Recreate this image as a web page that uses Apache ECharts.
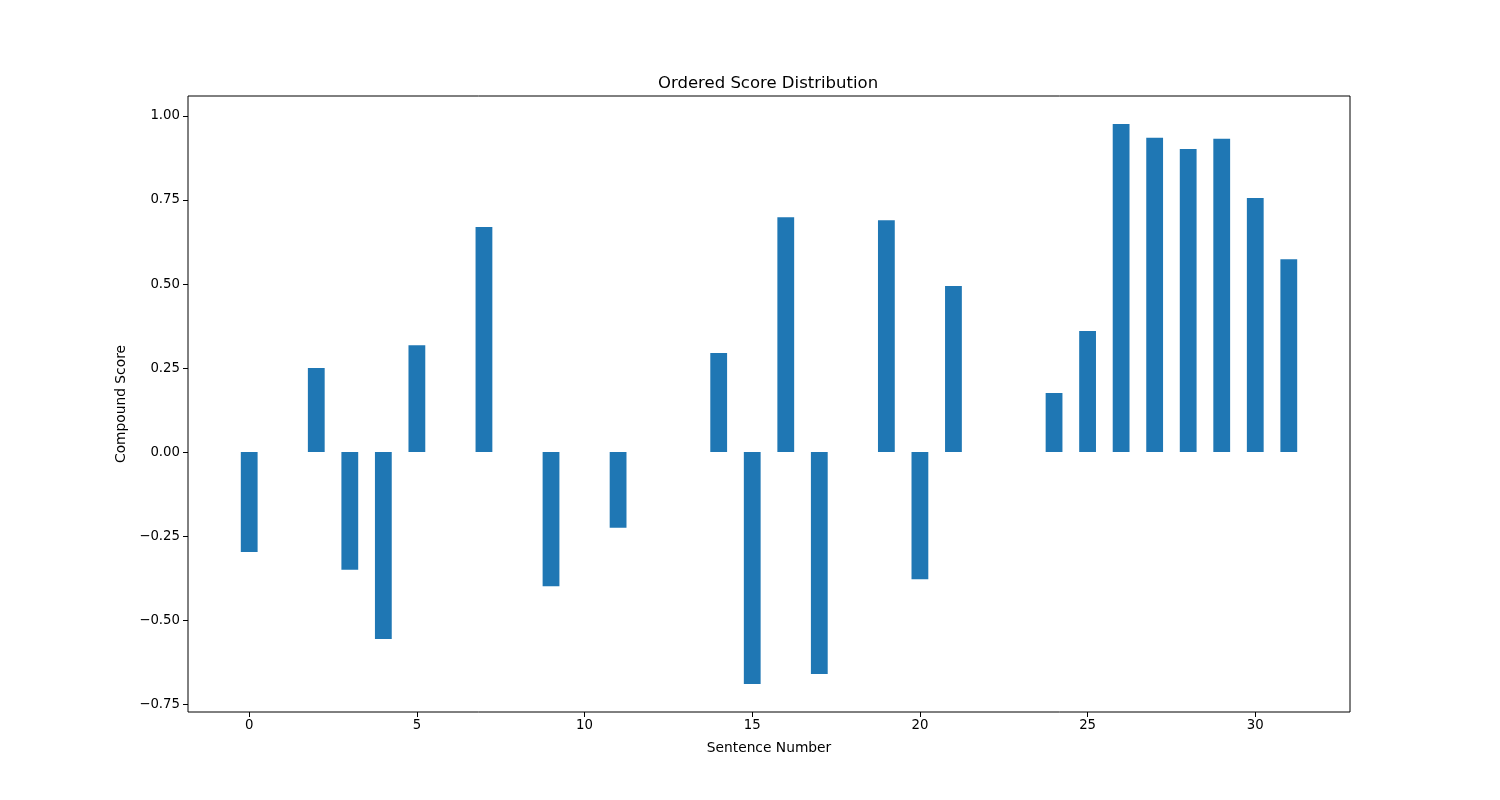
<!DOCTYPE html>
<html>
<head>
<meta charset="utf-8">
<script src="https://cdn.jsdelivr.net/npm/echarts@6/dist/echarts.min.js"></script>
<style>html,body{margin:0;padding:0;background:#fff;}#c{width:1500px;height:800px;}</style>
</head>
<body>
<div id="c"></div>
<script>
var sentences = [0,1,2,3,4,5,6,7,8,9,10,11,12,13,14,15,16,17,18,19,20,21,22,23,24,25,26,27,28,29,30,31];
var scores = [-0.297,0,0.25,-0.35,-0.556,0.318,0,0.670,0,-0.399,0,-0.225,0,0,0.295,-0.690,0.699,-0.660,0,0.690,-0.378,0.494,0,0,0.176,0.360,0.976,0.935,0.902,0.932,0.756,0.574];
var xTicks = [0,5,10,15,20,25,30];
var yTicks = [-0.75,-0.5,-0.25,0,0.25,0.5,0.75,1.0];

var font = 'DejaVu Sans';
var chart = echarts.init(document.getElementById('c'), null, {renderer:'canvas'});
var data = sentences.map(function(s,i){return [s, scores[i]];});
chart.setOption({
  animation:false,
  backgroundColor:'#fff',
  title:{text:'Ordered Score Distribution', left:653, top:70,
    textStyle:{fontFamily:font, fontSize:16.5, fontWeight:'normal', color:'#000'}},
  grid:{left:188, right:150, top:96, bottom:88, show:true, borderColor:'#000', borderWidth:1, backgroundColor:'transparent'},
  xAxis:{type:'value', min:-1.825, max:32.825,
    name:'Sentence Number', nameLocation:'middle', nameGap:29,
    nameTextStyle:{fontFamily:font, fontSize:13.8, color:'#000'},
    axisLine:{show:false, onZero:false},
    splitLine:{show:false},
    axisTick:{show:true, length:5, lineStyle:{color:'#000'}, customValues:xTicks},
    axisLabel:{fontFamily:font, fontSize:13.3, color:'#000', margin:7, customValues:xTicks,
      formatter:function(v){return String(v);}}
  },
  yAxis:{type:'value', min:-0.7733, max:1.0595,
    name:'Compound Score', nameLocation:'middle', nameGap:60, nameRotate:90,
    nameTextStyle:{fontFamily:font, fontSize:13.8, color:'#000'},
    axisLine:{show:false, onZero:false},
    splitLine:{show:false},
    axisTick:{show:true, length:5, lineStyle:{color:'#000'}, customValues:yTicks},
    axisLabel:{fontFamily:font, fontSize:13.3, color:'#000', margin:8, customValues:yTicks,
      formatter:function(v){var s=Math.abs(v).toFixed(2); return (v<0?'\u2212':'')+s;}}
  },
  series:[{type:'bar', data:data, barWidth:16.8, itemStyle:{color:'#1f77b4'}}]
});
</script>
</body>
</html>
